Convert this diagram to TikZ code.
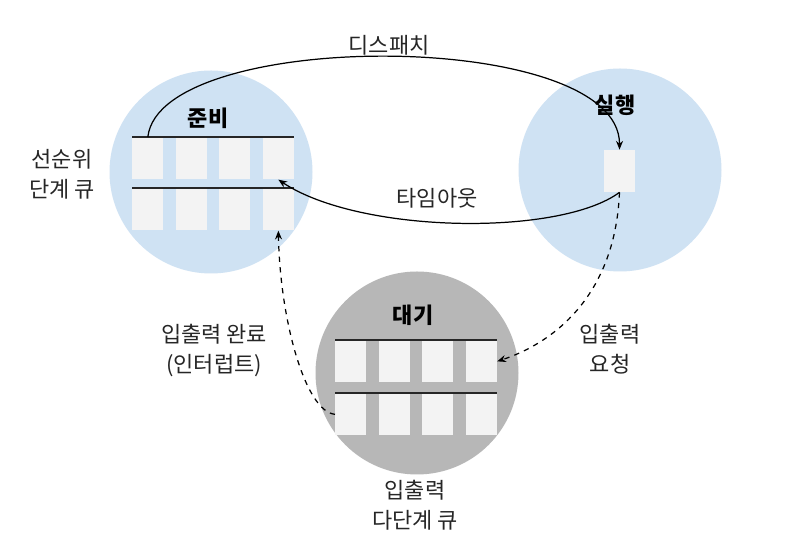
\documentclass[tikz,border=0pt]{standalone}
\usepackage{fontspec}
\setmainfont{Noto Sans CJK KR}
\usepackage{xcolor}
\definecolor{ReadyBlue}{HTML}{CFE2F3}
\definecolor{WaitGrey}{HTML}{B7B7B7}
\definecolor{SlotGrey}{HTML}{F3F3F3}
\definecolor{TextDark}{HTML}{262626}
\usetikzlibrary{shapes, arrows.meta, positioning, calc}

\begin{document}
\begin{tikzpicture}[
  % Zustandskreis
  statecircle/.style={
    circle,
    minimum size=4.06cm,
    inner sep=0pt,
    fill=#1
  },
  statecircle/.default=ReadyBlue,
  % Platz in der Warteschlange
  slot/.style={
    fill=SlotGrey,
    minimum width=0.62cm,
    minimum height=0.84cm,
    inner sep=0pt,
    anchor=north west
  },
  % Trennlinie der Warteschlange
  qline/.style={
    line width=0.8pt,
    color=black!85
  },
  % Zustandsname
  statelbl/.style={
    font=\fontsize{12.5}{17}\selectfont\bfseries,
    text=black
  },
  % Beschriftung
  lbl/.style={
    font=\fontsize{12.5}{17}\selectfont,
    text=TextDark,
    align=center
  },
  % Übergang
  flow/.style={
    line width=0.7pt,
    -{Stealth[length=5pt,width=4pt]}
  },
  ioflow/.style={
    flow,
    dashed
  }
]

% =============================================================================
% HINTERGRUND
% =============================================================================
\fill[white] (0,0) rectangle (15.84,11.18);
\useasboundingbox (0,0) rectangle (15.84,11.18);

% =============================================================================
% ZUSTÄNDE
% =============================================================================
\node[statecircle=ReadyBlue] (ready) at (4.22,7.74) {};
\node[statecircle=ReadyBlue] (running) at (12.40,7.78) {};
\node[statecircle=WaitGrey] (waiting) at (8.34,3.72) {};

\node[statelbl] (readylbl) at (4.16,8.82) {준비};
\node[statelbl] (runlbl) at (12.30,9.08) {실행};
\node[statelbl] (waitlbl) at (8.26,4.88) {대기};

% =============================================================================
% BEREIT-WARTESCHLANGE
% =============================================================================
% obere Reihe
\node[slot] (r11) at (2.64,8.44) {};
\node[slot] (r12) at (3.51,8.44) {};
\node[slot] (r13) at (4.38,8.44) {};
\node[slot] (r14) at (5.25,8.44) {};
% untere Reihe
\node[slot] (r21) at (2.64,7.42) {};
\node[slot] (r22) at (3.51,7.42) {};
\node[slot] (r23) at (4.38,7.42) {};
\node[slot] (r24) at (5.25,7.42) {};

\draw[qline] (r11.north west) -- (r14.north east);
\draw[qline] (r21.north west) -- (r24.north east);

% =============================================================================
% LAUFEND
% =============================================================================
\node[slot, anchor=center] (runbox) at (12.39,7.76) {};

% =============================================================================
% EIN-/AUSGABE-WARTESCHLANGE
% =============================================================================
% obere Reihe
\node[slot] (w11) at (6.70,4.38) {};
\node[slot] (w12) at (7.57,4.38) {};
\node[slot] (w13) at (8.44,4.38) {};
\node[slot] (w14) at (9.31,4.38) {};
% untere Reihe
\node[slot] (w21) at (6.70,3.32) {};
\node[slot] (w22) at (7.57,3.32) {};
\node[slot] (w23) at (8.44,3.32) {};
\node[slot] (w24) at (9.31,3.32) {};

\draw[qline] (w11.north west) -- (w14.north east);
\draw[qline] (w21.north west) -- (w24.north east);

% =============================================================================
% ÜBERGÄNGE
% =============================================================================
% Dispatch
\draw[flow] (r11.north) .. controls (3.2,10.62) and (12.4,10.62) .. (runbox.north);
\node[lbl] (dispatchlbl) at (7.78,10.28) {디스패치};

% Timeout
\draw[flow] (runbox.south) .. controls (11.2,6.45) and (7.2,6.5) .. (r14.south);
\node[lbl] (timeoutlbl) at (8.74,7.22) {타임아웃};

% I/O-Anforderung
\draw[ioflow] (runbox.south) .. controls (12.3,5.2) and (11.0,4.3) .. (w14.east);
\node[lbl] (iorequestlbl) at (12.20,4.20) {입출력\\요청};

% I/O-Abschluss
\draw[ioflow] (w21.west) .. controls (6.1,2.95) and (5.6,4.8) .. (r24.south);
\node[lbl] (iodonelbl) at (4.28,4.17) {입출력 완료\\(인터럽트)};

% =============================================================================
% WARTESCHLANGEN-NAMEN
% =============================================================================
\node[lbl] (readyqlbl) at (1.24,7.70) {선순위\\단계 큐};
\node[lbl] (ioqlbl) at (8.30,1.08) {입출력\\다단계 큐};

\end{tikzpicture}
\end{document}
